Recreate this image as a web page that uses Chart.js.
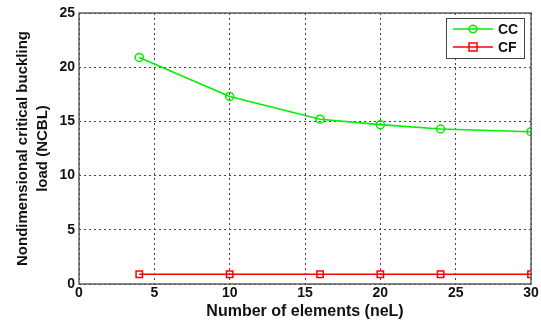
<!DOCTYPE html>
<html><head><meta charset="utf-8">
<script src="https://cdn.jsdelivr.net/npm/chart.js@4/dist/chart.umd.min.js"></script>
<style>html,body{margin:0;padding:0;background:#fff}#wrap{width:541px;height:324px}</style>
</head><body><div id="wrap"><canvas id="c" width="541" height="324"></canvas></div>
<script>
const elements = [4, 10, 16, 20, 24, 30];
const ccValues = [20.9, 17.3, 15.2, 14.7, 14.3, 14.05];
const cfValues = [0.9, 0.9, 0.9, 0.9, 0.9, 0.9];
const seriesNames = ['CC', 'CF'];
const xTicks = [0, 5, 10, 15, 20, 25, 30];
const yTicks = [0, 5, 10, 15, 20, 25];

const FONT = 'Arial, "Liberation Sans", sans-serif';
const green = '#00ee00', red = '#ff0000';

const boxPlugin = {
  id: 'box',
  afterDatasetsDraw(chart) {
    const {ctx, chartArea: a} = chart;
    ctx.save();
    ctx.strokeStyle = '#555';
    ctx.lineWidth = 1.4;
    ctx.strokeRect(a.left, a.top, a.right - a.left, a.bottom - a.top);
    // legend
    const lx = 446, ly = 18, lw = 78, lh = 40;
    ctx.fillStyle = '#fff';
    ctx.fillRect(lx, ly, lw, lh);
    ctx.strokeStyle = '#444';
    ctx.lineWidth = 1;
    ctx.strokeRect(lx + 0.5, ly + 0.5, lw, lh);
    const rows = [
      {name: seriesNames[0], color: green, style: 'circle', y: 29},
      {name: seriesNames[1], color: red, style: 'rect', y: 47}
    ];
    rows.forEach(r => {
      ctx.strokeStyle = r.color;
      ctx.lineWidth = 1.5;
      ctx.beginPath(); ctx.moveTo(453, r.y); ctx.lineTo(493, r.y); ctx.stroke();
      ctx.beginPath();
      if (r.style === 'circle') ctx.arc(473, r.y, 3.8, 0, Math.PI * 2);
      else ctx.rect(469, r.y - 4, 8, 8);
      ctx.stroke();
      ctx.fillStyle = '#111';
      ctx.font = 'bold 14px ' + FONT;
      ctx.textBaseline = 'middle';
      ctx.textAlign = 'left';
      ctx.fillText(r.name, 498, r.y + 1);
    });
    ctx.restore();
  }
};

new Chart(document.getElementById('c'), {
  type: 'scatter',
  data: {
    datasets: [
      {
        label: seriesNames[0],
        data: elements.map((x, i) => ({x, y: ccValues[i]})),
        showLine: true, borderColor: green, backgroundColor: 'rgba(0,0,0,0)',
        borderWidth: 1.6, pointStyle: 'circle', pointRadius: 4, pointBorderWidth: 1.5,
        pointBorderColor: green, pointBackgroundColor: 'rgba(0,0,0,0)'
      },
      {
        label: seriesNames[1],
        data: elements.map((x, i) => ({x, y: cfValues[i]})),
        showLine: true, borderColor: red, backgroundColor: 'rgba(0,0,0,0)',
        borderWidth: 1.6, pointStyle: 'rect', pointRadius: 4.5, pointBorderWidth: 1.5,
        pointBorderColor: red, pointBackgroundColor: 'rgba(0,0,0,0)'
      }
    ]
  },
  options: {
    responsive: false, animation: false,
    layout: {padding: {left: 0, right: 10, top: 13, bottom: 0}},
    plugins: {legend: {display: false}, tooltip: {enabled: false}},
    scales: {
      x: {
        type: 'linear', min: 0, max: 30,
        afterBuildTicks: s => { s.ticks = xTicks.map(v => ({value: v})); },
        afterFit: s => { s.height = 40; },
        grid: {color: '#444', lineWidth: 1, drawTicks: false, tickLength: 0},
        border: {display: false, dash: [2, 3]},
        ticks: {color: '#111', padding: 1, font: {family: FONT, size: 14, weight: 'bold'}, maxRotation: 0},
        title: {display: true, text: 'Number of elements (neL)', color: '#111',
          font: {family: FONT, size: 16, weight: 'bold'}, padding: {top: 0, bottom: 3}}
      },
      y: {
        type: 'linear', min: 0, max: 25,
        afterBuildTicks: s => { s.ticks = yTicks.map(v => ({value: v})); },
        afterFit: s => { s.width = 79; },
        grid: {color: '#444', lineWidth: 1, drawTicks: false, tickLength: 0},
        border: {display: false, dash: [2, 3]},
        ticks: {color: '#111', padding: 4, font: {family: FONT, size: 14, weight: 'bold'}},
        title: {display: true, text: ['Nondimensional critical buckling', 'load (NCBL)'], color: '#111',
          font: {family: FONT, size: 15, weight: 'bold', lineHeight: '20px'}, padding: {top: 13, bottom: 0}}
      }
    }
  },
  plugins: [boxPlugin]
});
</script></body></html>
